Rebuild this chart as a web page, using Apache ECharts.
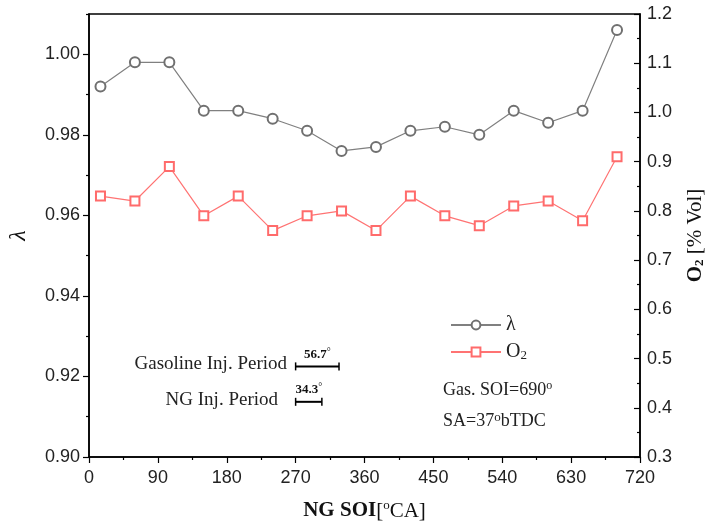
<!DOCTYPE html>
<html>
<head>
<meta charset="utf-8">
<script src="https://cdn.jsdelivr.net/npm/echarts@6/dist/echarts.min.js"></script>
<style>
  html, body { margin: 0; padding: 0; background: #fff; }
  #chart { width: 705px; height: 531px; }
</style>
</head>
<body>
<div id="chart"></div>
<script>
// NG start of injection [°CA]
var soi = [15, 60, 105, 150, 195, 240, 285, 330, 375, 420, 465, 510, 555, 600, 645, 690];
// lambda (left axis)
var lambda = [0.992, 0.998, 0.998, 0.986, 0.986, 0.984, 0.981, 0.976, 0.977, 0.981, 0.982, 0.980, 0.986, 0.983, 0.986, 1.006];
// O2 [% Vol] (right axis)
var o2 = [0.83, 0.82, 0.89, 0.79, 0.83, 0.76, 0.79, 0.80, 0.76, 0.83, 0.79, 0.77, 0.81, 0.82, 0.78, 0.91];
// injection period bars: start [°CA], duration [°CA], lambda level
var injStart = [270, 270];
var injDuration = [56.7, 34.3];
var injLevel = [0.9225, 0.9137];
// tick values
var lambdaTicks = [0.90, 0.92, 0.94, 0.96, 0.98, 1.00];
var lambdaMinorTicks = [0.91, 0.93, 0.95, 0.97, 0.99, 1.01];

var serif = '"Liberation Serif", "Times New Roman", serif';
var sans = '"Liberation Sans", Arial, sans-serif';

var chart = echarts.init(document.getElementById('chart'));

function pairs(xs, ys) {
  var out = [];
  for (var i = 0; i < xs.length; i++) out.push([xs[i], ys[i]]);
  return out;
}

var injData = [];
for (var i = 0; i < injStart.length; i++) {
  injData.push([injStart[i], injStart[i] + injDuration[i], injLevel[i], injDuration[i]]);
}

var option = {
  animation: false,
  backgroundColor: '#fff',
  grid: {
    left: 89, right: 65, top: 14, bottom: 74,
    outerBoundsMode: 'none',
    show: true, borderColor: '#000', borderWidth: 1.5, backgroundColor: 'transparent'
  },
  legend: {
    data: ['λ', 'O2'],
    orient: 'vertical',
    left: 445, top: 310,
    itemWidth: 50, itemHeight: 11, itemGap: 7,
    textStyle: {
      fontFamily: serif, fontSize: 20, color: '#222',
      rich: {
        n: { fontFamily: serif, fontSize: 20, color: '#222' },
        s: { fontFamily: serif, fontSize: 13, color: '#222', verticalAlign: 'bottom', padding: [8, 0, 0, 0] }
      }
    },
    formatter: function (name) {
      return name === 'O2' ? '{n|O}{s|2}' : '{n|λ}';
    }
  },
  xAxis: {
    type: 'value', min: 0, max: 720, interval: 90,
    name: '{b|NG SOI}{n|[}{sup|o}{n|CA]}',
    nameLocation: 'middle', nameGap: 42,
    nameTextStyle: {
      rich: {
        b: { fontFamily: serif, fontWeight: 'bold', fontSize: 21, color: '#111', lineHeight: 24 },
        n: { fontFamily: serif, fontSize: 21, color: '#111', lineHeight: 24 },
        sup: { fontFamily: serif, fontSize: 13, color: '#111', verticalAlign: 'top', lineHeight: 14 }
      }
    },
    axisLine: { lineStyle: { color: '#000', width: 1.5 } },
    axisTick: { inside: false, length: 6, lineStyle: { color: '#000', width: 1.2 } },
    minorTick: { show: true, splitNumber: 2, length: 3, lineStyle: { color: '#000', width: 1.2 } },
    axisLabel: { fontFamily: sans, fontSize: 18, color: '#222', margin: 12 },
    splitLine: { show: false }
  },
  yAxis: [
    {
      type: 'value', min: 0.90, max: 1.01, position: 'left',
      name: 'λ', nameLocation: 'middle', nameGap: 58, nameRotate: 90,
      nameTextStyle: { fontFamily: serif, fontStyle: 'italic', fontSize: 24, color: '#111' },
      axisLine: { show: true, lineStyle: { color: '#000', width: 1.5 } },
      axisTick: { show: true, inside: false, length: 6, customValues: lambdaTicks, lineStyle: { color: '#000', width: 1.2 } },
      axisLabel: {
        fontFamily: sans, fontSize: 18, color: '#222', margin: 9,
        customValues: lambdaTicks,
        formatter: function (v) { return v.toFixed(2); }
      },
      splitLine: { show: false }
    },
    {
      type: 'value', min: 0.3, max: 1.2, interval: 0.1, position: 'right',
      name: '{b|O}{bs|2}{n| [% Vol]}', nameLocation: 'middle', nameGap: 45, nameRotate: 90,
      nameTextStyle: {
        rich: {
          b: { fontFamily: serif, fontWeight: 'bold', fontSize: 21, color: '#111' },
          bs: { fontFamily: serif, fontWeight: 'bold', fontSize: 13, color: '#111', verticalAlign: 'bottom', padding: [8, 0, 0, 0] },
          n: { fontFamily: serif, fontSize: 21, color: '#111' }
        }
      },
      axisLine: { show: true, lineStyle: { color: '#000', width: 1.5 } },
      axisTick: { inside: true, length: 6, lineStyle: { color: '#000', width: 1.2 } },
      minorTick: { show: true, splitNumber: 2, length: 3, lineStyle: { color: '#000', width: 1.2 } },
      axisLabel: {
        fontFamily: sans, fontSize: 18, color: '#222', margin: 7,
        formatter: function (v) { return v.toFixed(1); }
      },
      splitLine: { show: false }
    },
    {
      // minor ticks of the lambda axis
      type: 'value', min: 0.90, max: 1.01, position: 'left',
      axisLine: { show: false },
      axisTick: { show: true, inside: false, length: 3, customValues: lambdaMinorTicks, lineStyle: { color: '#000', width: 1.2 } },
      axisLabel: { show: false },
      splitLine: { show: false }
    }
  ],
  graphic: [
    { type: 'text', right: 705 - 287, top: 355, style: { text: 'Gasoline Inj. Period', font: '19px ' + serif, fill: '#222' } },
    { type: 'text', right: 705 - 278, top: 391, style: { text: 'NG Inj. Period', font: '19px ' + serif, fill: '#222' } },
    {
      type: 'text', left: 443, top: 380,
      style: {
        text: '{n|Gas. SOI=690}{s|o}',
        rich: {
          n: { fontFamily: serif, fontSize: 18, fill: '#222', lineHeight: 20 },
          s: { fontFamily: serif, fontSize: 12, fill: '#222', verticalAlign: 'top', lineHeight: 12 }
        }
      }
    },
    {
      type: 'text', left: 443, top: 411,
      style: {
        text: '{n|SA=37}{s|o}{n|bTDC}',
        rich: {
          n: { fontFamily: serif, fontSize: 18, fill: '#222', lineHeight: 20 },
          s: { fontFamily: serif, fontSize: 13, fill: '#222', verticalAlign: 'top', lineHeight: 12 }
        }
      }
    }
  ],
  series: [
    {
      name: 'λ', type: 'line', yAxisIndex: 0,
      data: pairs(soi, lambda),
      symbol: 'emptyCircle', symbolSize: 10,
      itemStyle: { color: '#707070', borderWidth: 1.2 },
      lineStyle: { color: '#808080', width: 1.2 },
      z: 3
    },
    {
      name: 'O2', type: 'line', yAxisIndex: 1,
      data: pairs(soi, o2),
      symbol: 'emptyRect', symbolSize: 9,
      itemStyle: { color: '#ff6b6b', borderWidth: 1.2 },
      lineStyle: { color: '#ff7373', width: 1.2 },
      z: 3
    },
    {
      name: 'inj', type: 'custom', yAxisIndex: 0, silent: true,
      data: injData,
      renderItem: function (params, api) {
        var s = api.coord([api.value(0), api.value(2)]);
        var e = api.coord([api.value(1), api.value(2)]);
        var ink = { stroke: '#000', lineWidth: 2 };
        return {
          type: 'group',
          children: [
            { type: 'line', shape: { x1: s[0], y1: s[1], x2: e[0], y2: e[1] }, style: ink },
            { type: 'line', shape: { x1: s[0], y1: s[1] - 4, x2: s[0], y2: s[1] + 4 }, style: { stroke: '#000', lineWidth: 1.5 } },
            { type: 'line', shape: { x1: e[0], y1: e[1] - 4, x2: e[0], y2: e[1] + 4 }, style: { stroke: '#000', lineWidth: 1.5 } },
            {
              type: 'text', x: (s[0] + e[0]) / 2, y: s[1] - 5,
              style: {
                text: '{a|' + api.value(3).toFixed(1) + '}{d|°}',
                align: 'center', verticalAlign: 'bottom',
                rich: {
                  a: { fontFamily: serif, fontWeight: 'bold', fontSize: 13, fill: '#111', lineHeight: 14 },
                  d: { fontFamily: serif, fontSize: 10, fill: '#111', verticalAlign: 'top', lineHeight: 10 }
                }
              }
            }
          ]
        };
      },
      z: 2
    }
  ]
};

chart.setOption(option);
</script>
</body>
</html>
